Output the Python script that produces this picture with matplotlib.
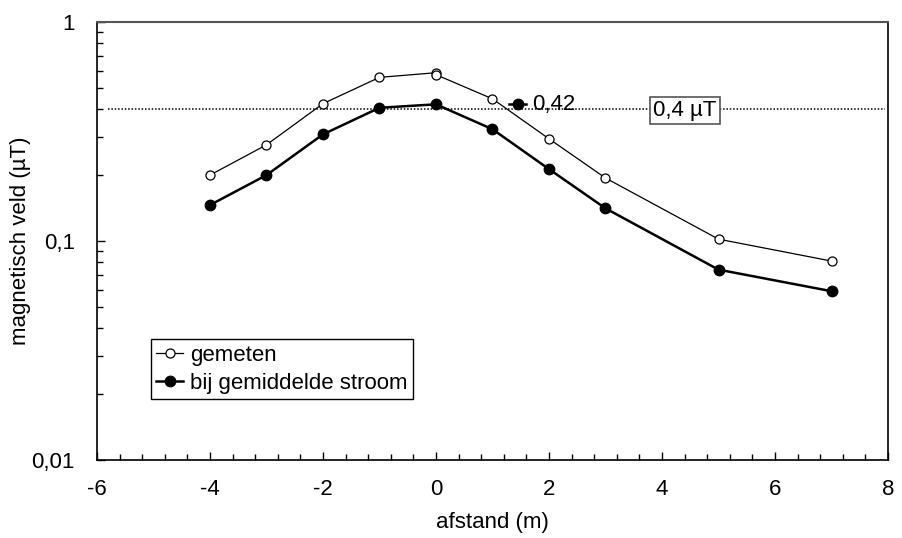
import matplotlib
matplotlib.use('Agg')
import matplotlib.pyplot as plt
from matplotlib.ticker import LogLocator, MultipleLocator, NullFormatter

plt.rcParams['font.family'] = ['Liberation Sans', 'DejaVu Sans']
plt.rcParams['axes.unicode_minus'] = False

# data
x_gemeten = [-4, -3, -2, -1, 0, 0, 1, 2, 3, 5, 7]
gemeten = [0.200, 0.275, 0.424, 0.559, 0.587, 0.575, 0.446, 0.293, 0.194, 0.102, 0.081]

x_stroom = [-4, -3, -2, -1, 0, 1, 2, 3, 5, 7]
stroom = [0.146, 0.200, 0.307, 0.406, 0.421, 0.324, 0.213, 0.141, 0.074, 0.059]

grens = 0.4
piek_label = '0,42'
grens_label = '0,4 µT'
y_ticks = [0.01, 0.1, 1]
y_ticklabels = ['0,01', '0,1', '1']
x_ticks = [-6, -4, -2, 0, 2, 4, 6, 8]

fs = 16

fig = plt.figure(figsize=(9.02, 5.38), dpi=100)
ax = fig.add_axes([0.1075, 0.145, 0.8770, 0.814])

ax.plot(x_gemeten, gemeten, color='black', lw=0.9, marker='o', ms=6.5,
        mfc='white', mec='black', mew=0.9, label='gemeten', zorder=3)
ax.plot(x_stroom, stroom, color='black', lw=1.8, marker='o', ms=7.5,
        mfc='black', mec='black', label='bij gemiddelde stroom', zorder=4)

# 0,4 uT line
ax.hlines(grens, -5.8, 7.95, colors='black', linestyles=(0, (1, 1.2)), lw=1.1, zorder=2)
ax.text(4.41, 0.394, grens_label, ha='center', va='center', fontsize=fs,
        bbox=dict(boxstyle='square,pad=0.15', fc='white', ec='#555555', lw=1.2), zorder=5)

# data label of the peak with its key
ax.plot([1.3, 1.6], [stroom[4], stroom[4]], color='black', lw=1.8, zorder=4)
ax.plot([1.45], [stroom[4]], 'o', color='black', ms=7.5, zorder=4)
ax.text(1.7, stroom[4], piek_label, ha='left', va='center', fontsize=fs, zorder=5)

ax.set_yscale('log')
ax.set_xlim(-6, 8)
ax.set_ylim(0.01, 1)
ax.set_xticks(x_ticks)
ax.xaxis.set_minor_locator(MultipleLocator(0.4))
ax.set_yticks(y_ticks)
ax.set_yticklabels(y_ticklabels)
ax.yaxis.set_minor_locator(LogLocator(base=10, subs=range(2, 10)))
ax.yaxis.set_minor_formatter(NullFormatter())

ax.tick_params(axis='both', which='major', direction='in', length=6, width=1,
               labelsize=fs)
ax.tick_params(axis='both', which='minor', direction='in', length=4, width=1)
ax.tick_params(axis='x', which='both', top=False)
ax.tick_params(axis='x', which='major', pad=14)
ax.tick_params(axis='y', which='both', right=False)
ax.tick_params(axis='y', which='major', pad=16)

for side in ['left', 'bottom', 'right']:
    ax.spines[side].set_linewidth(1.2)
    ax.spines[side].set_color('black')
ax.spines['top'].set_color('#555555')
ax.spines['top'].set_linewidth(1.5)

ax.set_xlabel('afstand (m)', fontsize=fs, labelpad=8)
ax.set_ylabel('magnetisch veld (µT)', fontsize=fs)
ax.yaxis.set_label_coords(-0.083, 0.5)

leg = ax.legend(loc='upper left', bbox_to_anchor=(0.068, 0.2756), borderaxespad=0,
                fontsize=fs, fancybox=False, edgecolor='black', framealpha=1,
                handlelength=1.2, handletextpad=0.3, borderpad=0.25, labelspacing=0.3)
leg.get_frame().set_linewidth(1.0)

plt.savefig('out.png', dpi=100)
